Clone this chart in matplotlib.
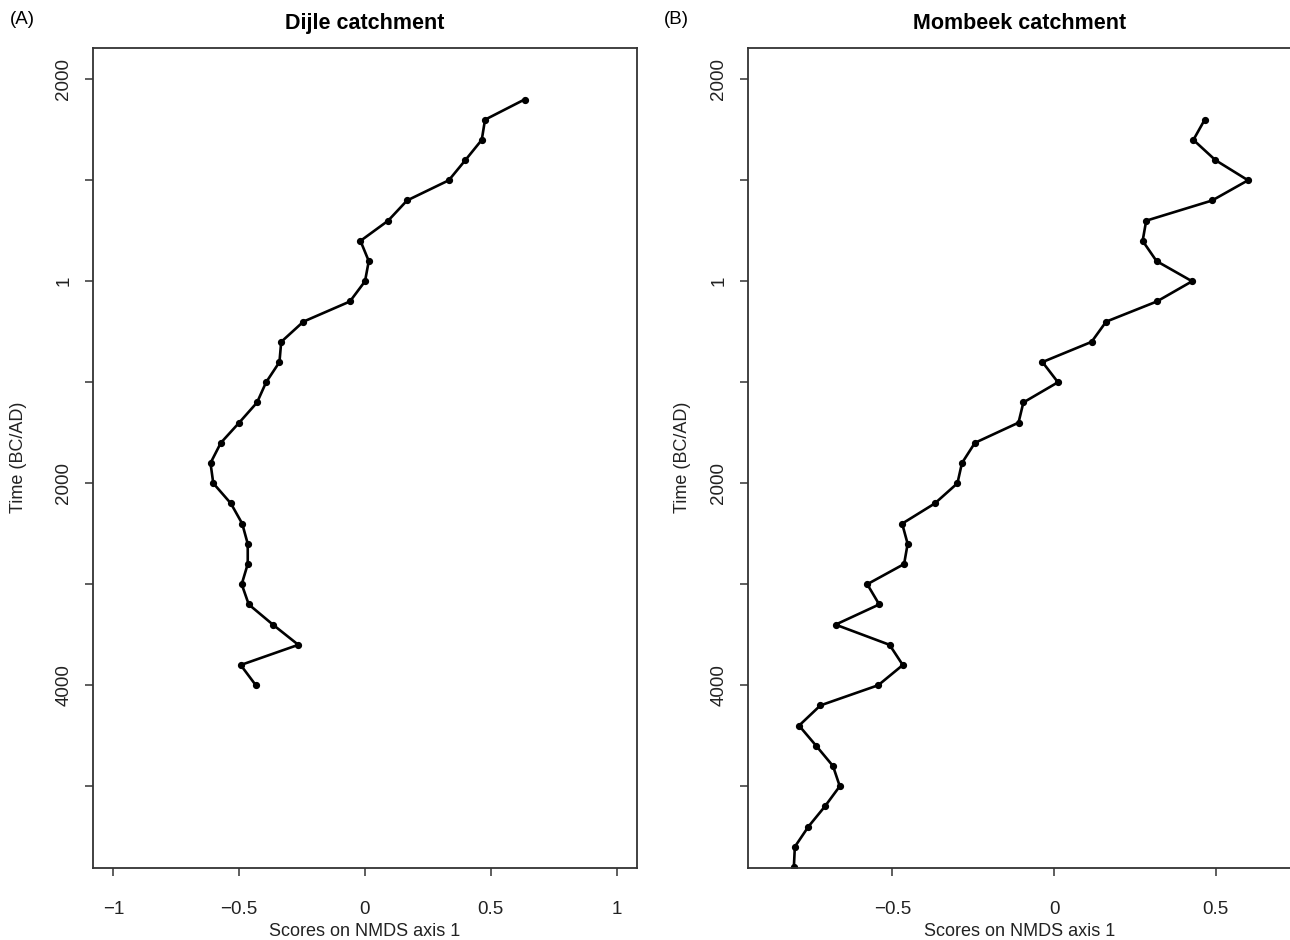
import matplotlib
matplotlib.use('Agg')
import matplotlib.pyplot as plt
import numpy as np

plt.rcParams['font.family'] = ['Liberation Sans', 'DejaVu Sans']

# years AD (negative = BC), one sample every 200 years
dijle_years = np.arange(1800, -4001, -200)
dijle_scores = [0.634, 0.477, 0.464, 0.399, 0.333, 0.167, 0.092, -0.018, 0.015,
                0.000, -0.060, -0.245, -0.333, -0.340, -0.393, -0.429, -0.500,
                -0.573, -0.614, -0.603, -0.533, -0.488, -0.466, -0.466, -0.490,
                -0.462, -0.366, -0.265, -0.494, -0.434]

mombeek_years = np.arange(1600, -5801, -200)
mombeek_scores = [0.466, 0.431, 0.499, 0.600, 0.489, 0.285, 0.274, 0.317, 0.427,
                  0.318, 0.161, 0.116, -0.036, 0.012, -0.095, -0.110, -0.245,
                  -0.285, -0.299, -0.369, -0.470, -0.453, -0.464, -0.578, -0.541,
                  -0.676, -0.509, -0.468, -0.544, -0.723, -0.789, -0.736, -0.684,
                  -0.663, -0.709, -0.760, -0.802, -0.805]

ytick_pos = [2000, 1000, 0, -1000, -2000, -3000, -4000, -5000]
ytick_lab = ['2000', '', '1', '', '2000', '', '4000', '']

W, H = 1290, 940
fig = plt.figure(figsize=(W / 100, H / 100), dpi=100)

top, bottom = 48, 867.5
ax1 = fig.add_axes([93 / W, 1 - bottom / H, (637 - 93) / W, (bottom - top) / H])
ax2 = fig.add_axes([748.3 / W, 1 - bottom / H, (1291 - 748.3) / W, (bottom - top) / H])

panels = [
    (ax1, dijle_scores, dijle_years, 'Dijle catchment', (-1.081, 1.081),
     [-1, -0.5, 0, 0.5, 1]),
    (ax2, mombeek_scores, mombeek_years, 'Mombeek catchment', (-0.946, 0.733),
     [-0.5, 0, 0.5]),
]

for ax, xs, ys, title, xlim, xt in panels:
    ax.plot(xs, ys, color='black', lw=1.9, marker='o', ms=4.2,
            solid_joinstyle='round')
    ax.set_xlim(*xlim)
    ax.set_ylim(-5805, 2310)
    ax.set_xticks(xt)
    ax.set_xticklabels([('\u2212' if v < 0 else '') + ('%g' % abs(v)) for v in xt])
    ax.set_yticks(ytick_pos)
    ax.set_yticklabels(ytick_lab, rotation=90, va='center')
    ax.tick_params(direction='out', length=6, width=1.1, color='#333333',
                   labelsize=13.5, labelcolor='#222222')
    ax.tick_params(axis='x', pad=18)
    ax.tick_params(axis='y', pad=9)
    for sp in ax.spines.values():
        sp.set_color('#333333')
        sp.set_linewidth(1.3)
    ax.set_xlabel('Scores on NMDS axis 1', fontsize=13, color='#222222')
    ax.set_ylabel('Time (BC/AD)', fontsize=13, color='#222222')
    ax.set_title(title, fontsize=15.5, fontweight='bold', pad=14)

ax1.xaxis.set_label_coords(0.5, -0.068)
ax1.yaxis.set_label_coords(-0.122, 0.5)
ax2.xaxis.set_label_coords(0.5, -0.068)
ax2.yaxis.set_label_coords(-0.105, 0.5)
ax2.spines['right'].set_visible(False)

fig.text(10 / W, 1 - 20 / H, '(A)', fontsize=13.5, va='center', ha='left')
fig.text(664 / W, 1 - 20 / H, '(B)', fontsize=13.5, va='center', ha='left')

fig.savefig('out.png', dpi=100, facecolor='white')
